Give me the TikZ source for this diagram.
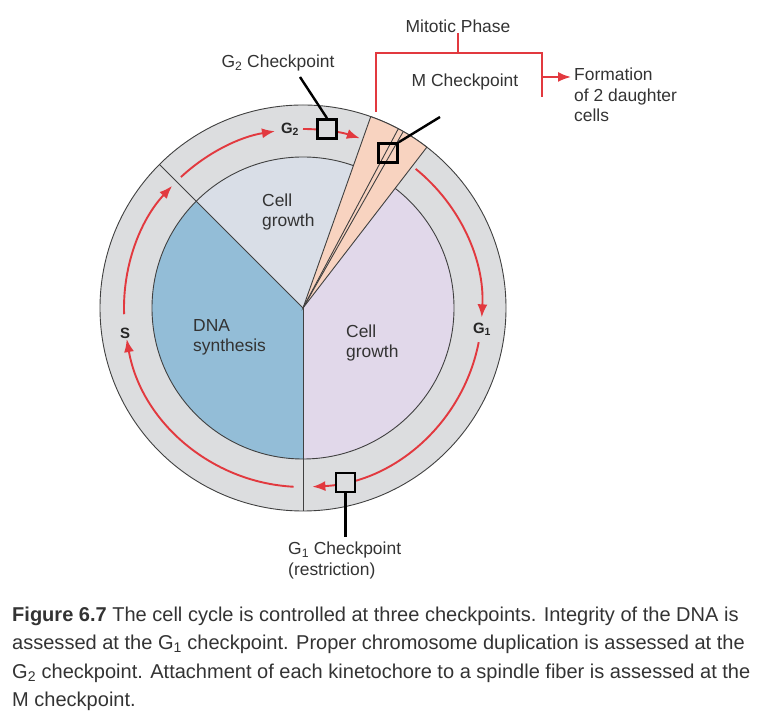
\documentclass[tikz,border=0pt]{standalone}
\usepackage{fontspec}
\setmainfont{Liberation Sans}
\usetikzlibrary{arrows.meta,positioning}

\definecolor{ringgray}{HTML}{DCDDDF}
\definecolor{dnablue}{HTML}{93BDD7}
\definecolor{topgrowth}{HTML}{D9DEE7}
\definecolor{lavgrowth}{HTML}{E1D8EA}
\definecolor{mwedge}{HTML}{F8D3C0}
\definecolor{cycred}{HTML}{E2393F}
\definecolor{txtgray}{HTML}{333333}

\begin{document}
\begin{tikzpicture}[x=1bp,y=1bp,
  lbl/.style={font=\fontsize{17.5}{20.5}\selectfont,text=txtgray,inner sep=0pt,align=left},
  phase/.style={font=\fontsize{15}{17}\selectfont\bfseries,text=black!85,inner sep=0pt},
  chkbox/.style={draw=black,line width=2.6bp,minimum size=19bp,inner sep=0pt},
  leader/.style={draw=black,line width=2.4bp},
  cycarrow/.style={draw=cycred,line width=1.9bp,-{Latex[length=13bp,width=10bp]}},
  bracket/.style={draw=cycred,line width=1.9bp},
  rim/.style={draw=black!75,line width=0.9bp}]

\useasboundingbox (0,0) rectangle (778,716);
\coordinate (c) at (303,408);

\begin{scope}[shift={(c)}]
\filldraw[fill=ringgray,rim] (0,0) circle[radius=203bp];
\fill[dnablue] (0,0) -- (135:151) arc[start angle=135,end angle=270,radius=151bp] -- cycle;
\fill[topgrowth] (0,0) -- (70.5:151) arc[start angle=70.5,end angle=135,radius=151bp] -- cycle;
\fill[lavgrowth] (0,0) -- (-90:151) arc[start angle=-90,end angle=52.4,radius=151bp] -- cycle;
\draw[rim] (0,0) circle[radius=151bp];
\filldraw[fill=mwedge,rim] (0,0) -- (52.4:203) arc[start angle=52.4,end angle=70.5,radius=203bp] -- cycle;
\draw[rim] (0,0) -- (60.4:203);
\draw[rim] (0,0) -- (62:203);
\draw[rim] (0,0) -- (135:203);
\draw[rim] (0,0) -- (270:203);

\draw[cycarrow] (182:179) arc[start angle=182,end angle=137,radius=179bp];
\draw[cycarrow] (133:179) arc[start angle=133,end angle=99,radius=179bp];
\draw[cycarrow] (90:179) arc[start angle=90,end angle=71.5,radius=179bp];
\draw[cycarrow] (51:179) arc[start angle=51,end angle=-3,radius=179bp];
\draw[cycarrow] (-11:179) arc[start angle=-11,end angle=-87,radius=179bp];
\draw[cycarrow] (-93:179) arc[start angle=-93,end angle=-170,radius=179bp];
\end{scope}

\node[phase] (sph) at (125,383) {S};
\node[phase] (g2ph) at (290,587) {G\textsubscript{2}};
\node[phase] (g1ph) at (482,387) {G\textsubscript{1}};

\node[chkbox,fill=ringgray] (g2box) at (327,587) {};
\node[chkbox] (mbox) at (388,563) {};
\node[chkbox,fill=ringgray] (g1box) at (345.5,233.5) {};

\node[lbl,anchor=west] (topcell) at (262,504) {Cell\\growth};
\node[lbl,anchor=west] (dna) at (193,378.5) {DNA\\synthesis};
\node[lbl,anchor=west] (rightcell) at (346,373) {Cell\\growth};

\node[lbl] (g2chk) at (278,653) {G\textsubscript{2} Checkpoint};
\coordinate (g2tip) at (300,639);
\draw[leader] (g2box.north) -- (g2tip);

\node[lbl] (mchk) at (465,634) {M Checkpoint};
\coordinate (mtip) at (440,599);
\draw[leader] (mbox.north east) -- (mtip);

\node[lbl,anchor=north west] (g1chk) at (288,174) {G\textsubscript{1} Checkpoint\\(restriction)};
\coordinate (g1tip) at (345.5,179);
\draw[leader] (g1box.south) -- (g1tip);

\node[lbl] (mph) at (458,690) {Mitotic Phase};
\coordinate (brl) at (376,604);
\coordinate (brr) at (542,619);
\coordinate (brtop) at (458,663);
\draw[bracket] (brl) |- (brr |- brtop) -- (brr);
\draw[bracket] (brtop) -- (brtop |- mph.south);
\coordinate (brout) at (542,639);
\node[lbl,anchor=north west] (form) at (574,648) {Formation\\of 2 daughter\\cells};
\draw[cycarrow] (brout) -- ([xshift=-3bp]brout -| form.west);

\node[anchor=north west,inner sep=0pt,align=left,text=txtgray,
  font=\fontsize{20.1}{28.7}\selectfont] (caption) at (12,109.5)
  {\textbf{Figure 6.7} The cell cycle is controlled at three checkpoints. Integrity of the DNA is\\
   assessed at the G\textsubscript{1} checkpoint. Proper chromosome duplication is assessed at the\\
   G\textsubscript{2} checkpoint. Attachment of each kinetochore to a spindle fiber is assessed at the\\
   M checkpoint.};
\end{tikzpicture}
\end{document}
